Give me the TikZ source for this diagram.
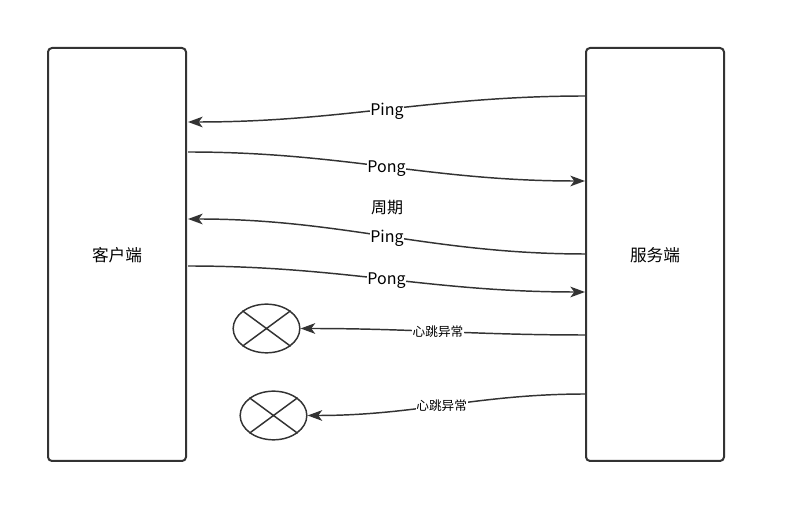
\documentclass[tikz,border=0pt]{standalone}
\usepackage{fontspec}
\setmainfont{Noto Sans CJK SC}
\usetikzlibrary{arrows.meta,shapes.geometric}

\definecolor{linegray}{RGB}{51,51,51}
\tikzset{every picture/.style={line width=1.1pt}}
\tikzset{
  endbox/.style={draw=linegray,line width=1.5pt,rounded corners=3pt,minimum width=103.5pt,minimum height=309.75pt,text depth=0pt,font=\fontsize{12.5}{14}\selectfont},
  deadend/.style={draw=linegray,line width=1.1pt,ellipse,minimum width=50pt,minimum height=36.5pt,inner sep=0pt},
  msg/.style={draw=linegray,-{Stealth[length=11pt,width=8pt,inset=3pt]}},
  msglabel/.style={fill=white,inner sep=0.5pt,font=\fontsize{12}{14}\selectfont},
  faultlabel/.style={fill=white,inner sep=0.5pt,font=\fontsize{9.5}{11}\selectfont}
}

\begin{document}
\begin{tikzpicture}[x=0.75pt,y=0.75pt,yscale=-1,xscale=1]
\useasboundingbox (0,0) rectangle (786,523);

%Shape: Rectangle [id:client]
\node [endbox] (client) at (117,254.5) {客户端};
%Shape: Rectangle [id:server]
\node [endbox] (server) at (655,254.5) {服务端};
%Shape: Ellipse [id:dead1]
\node [deadend] (dead1) at (266.5,328.5) {};
\draw [linegray] (dead1.north west) -- (dead1.south east) (dead1.north east) -- (dead1.south west);
%Shape: Ellipse [id:dead2]
\node [deadend] (dead2) at (273.5,415.5) {};
\draw [linegray] (dead2.north west) -- (dead2.south east) (dead2.north east) -- (dead2.south west);

%Connector ends
\coordinate (ping1s) at (586,96);  \coordinate (ping1e) at (188,122);
\coordinate (pong1s) at (188,152); \coordinate (pong1e) at (585,181);
\coordinate (ping2s) at (586,254); \coordinate (ping2e) at (188,219);
\coordinate (pong2s) at (188,266); \coordinate (pong2e) at (585,292);
\coordinate (fault1s) at (586,335);
\coordinate (fault2s) at (586,394);

%Curve Lines
\draw [msg] (ping1s) to[out=180,in=0] node [msglabel,yshift=-1.5pt] {Ping} (ping1e);
\draw [msg] (pong1s) to[out=0,in=180] node [msglabel,yshift=-1.5pt] {Pong} (pong1e);
\draw [msg] (ping2s) to[out=180,in=0] node [msglabel,yshift=-1.5pt] {Ping} (ping2e);
\draw [msg] (pong2s) to[out=0,in=180] node [msglabel,yshift=-1.5pt] {Pong} (pong2e);
\draw [msg] (fault1s) to[out=180,in=0] node [faultlabel,pos=0.52] {心跳异常} (dead1.east);
\draw [msg] (fault2s) to[out=180,in=0] node [faultlabel,pos=0.52] {心跳异常} (dead2.east);

% Text Node
\node [font=\fontsize{12}{14}\selectfont] (cycle) at (387,208) {周期};

\end{tikzpicture}
\end{document}
